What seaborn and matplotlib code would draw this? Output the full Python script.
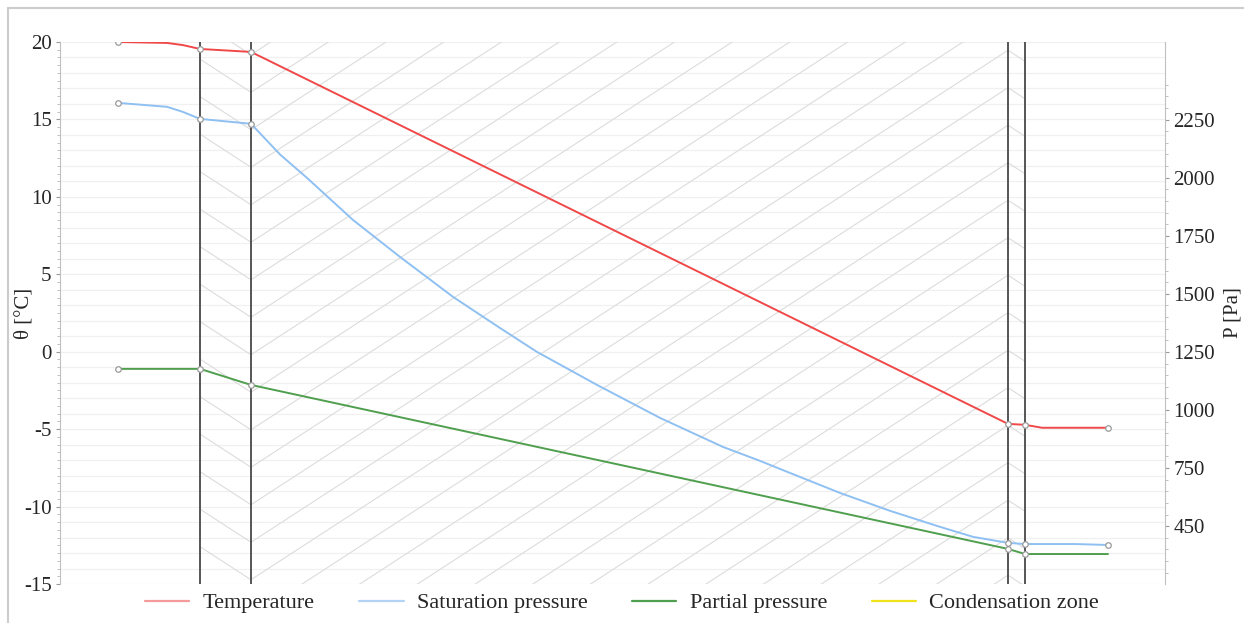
import numpy as np
import pandas as pd
import seaborn as sns
import matplotlib.pyplot as plt
from matplotlib.lines import Line2D
from matplotlib.patches import Rectangle

# position through the wall (arbitrary units, left = inside)
temp_x = [0, 49, 65, 82, 133, 890, 907, 924, 990]
temp_c = [20.0, 19.94, 19.8, 19.55, 19.36, -4.66, -4.72, -4.91, -4.91]
temp_marks = [0, 3, 4, 5, 6, 8]

sat_x = [0, 49, 65, 82, 133, 162, 189, 235, 282, 335, 382, 419, 479, 542,
         605, 642, 672, 722, 772, 822, 855, 890, 907, 957, 990]
sat_p = [2322, 2305, 2283, 2253, 2232, 2100, 1999, 1818, 1659, 1487, 1353,
         1250, 1108, 966, 841, 781, 729, 643, 566, 497, 454, 428, 423, 423, 419]
sat_marks = [0, 3, 4, 21, 22, 24]

part_x = [0, 82, 133, 890, 907, 990]
part_p = [1177, 1177, 1108, 402, 380, 380]

walls = [82, 133, 890, 907]
layers = [(82, 133, -1), (133, 890, 1), (890, 907, -1)]

p_ticks = [500, 750, 1000, 1250, 1500, 1750, 2000, 2250]
p_labels = ['450', '750', '1000', '1250', '1500', '1750', '2000', '2250']

c_temp = '#f04848'
c_sat = '#8fc0f2'
c_part = '#4f9f4f'
c_cond = '#f2e21c'

sns.set_style('white')
plt.rcParams['font.family'] = ['Liberation Serif', 'DejaVu Serif']
plt.rcParams['axes.unicode_minus'] = False

fig = plt.figure(figsize=(12.44, 6.23), dpi=100)
ax = fig.add_axes([60 / 1244, 1 - 584 / 623, 1105 / 1244, 542 / 623])
ax2 = ax.twinx()

ax.set_xlim(-58, 1047)
ax.set_ylim(-15, 20)
ax2.set_ylim(251, 2584)

# light horizontal grid
for g in np.arange(-15, 21, 1):
    ax.axhline(g, color='#f0f0f0', lw=0.9, zorder=0)

# layer hatching (chevrons), slope given in pixel units
px_per_c = 542 / 35
slope = 0.65 / px_per_c
base = -5.04
step = 37.5 / px_per_c
for x0, x1, d in layers:
    for k in range(-40, 40):
        yv = base + k * step
        if d == -1 and x1 <= 133:
            ax.plot([x0, x1], [yv + slope * (x1 - x0), yv], color='#dcdcdc',
                    lw=0.8, zorder=1)
        elif d == 1:
            ax.plot([x0, x1], [yv, yv + slope * (x1 - x0)], color='#dcdcdc',
                    lw=0.8, zorder=1)
        else:
            yv = yv + slope * (890 - 133)
            ax.plot([x0, x1], [yv, yv - slope * (x1 - x0)], color='#dcdcdc',
                    lw=0.8, zorder=1)

for w in walls:
    ax.axvline(w, color='#555555', lw=1.4, zorder=2)

mk = dict(marker='o', markersize=4, markerfacecolor='white',
          markeredgecolor='#9a9a9a', markeredgewidth=0.9)

df_t = pd.DataFrame({'x': temp_x, 'y': temp_c})
sns.lineplot(data=df_t, x='x', y='y', ax=ax, color=c_temp, lw=1.4,
             sort=False, estimator=None, zorder=3)
ax.plot([temp_x[i] for i in temp_marks], [temp_c[i] for i in temp_marks],
        ls='none', zorder=4, **mk)

df_s = pd.DataFrame({'x': sat_x, 'y': sat_p})
sns.lineplot(data=df_s, x='x', y='y', ax=ax2, color=c_sat, lw=1.4,
             sort=False, estimator=None, zorder=3)
ax2.plot([sat_x[i] for i in sat_marks], [sat_p[i] for i in sat_marks],
         ls='none', zorder=4, **mk)

df_p = pd.DataFrame({'x': part_x, 'y': part_p})
sns.lineplot(data=df_p, x='x', y='y', ax=ax2, color=c_part, lw=1.4,
             sort=False, estimator=None, zorder=3)
ax2.plot(part_x[:-1], part_p[:-1], ls='none', zorder=4, **mk)

# axes styling
ax.set_yticks(np.arange(-15, 21, 5))
ax.set_yticks(np.arange(-15, 20.1, 0.5), minor=True)
ax.set_xticks([])
ax2.set_yticks(p_ticks)
ax2.set_yticklabels(p_labels)
ax2.set_yticks(np.arange(300, 2401, 50), minor=True)
for a in (ax, ax2):
    for s in ['top', 'bottom']:
        a.spines[s].set_visible(False)
    a.tick_params(axis='y', which='major', length=3, width=0.8,
                  color='#999999', labelsize=15, pad=3)
    a.tick_params(axis='y', which='minor', length=2, width=0.6,
                  color='#b5b5b5')
    a.set_xlabel('')
ax.spines['left'].set_color('#c0c0c0')
ax.spines['right'].set_visible(False)
ax2.spines['left'].set_visible(False)
ax2.spines['right'].set_color('#c0c0c0')
ax.tick_params(axis='y', left=True, which='both')
ax2.tick_params(axis='y', right=True, which='both')
ax.set_ylabel('θ [°C]', fontsize=15)
ax.yaxis.set_label_coords(-0.0244, 0.5)
ax2.set_ylabel('P [Pa]', fontsize=15)
ax2.yaxis.set_label_coords(1.0525, 0.5)

handles = [Line2D([], [], color=c, lw=1.6) for c in
           ['#f49a9a', '#b3d4f6', c_part, c_cond]]
fig.legend(handles, ['Temperature', 'Saturation pressure', 'Partial pressure',
                     'Condensation zone'],
           loc='center', bbox_to_anchor=(0.5, 1 - 603 / 623), ncol=4,
           frameon=False, fontsize=16, handlelength=2.0, columnspacing=2.0,
           handletextpad=0.6)

fig.add_artist(Rectangle((8 / 1244, -0.1), 1.2, 1 - 8 / 623 + 0.1,
                         transform=fig.transFigure, fill=False,
                         ec='#cccccc', lw=1.5))

fig.savefig('out.png', dpi=100)
